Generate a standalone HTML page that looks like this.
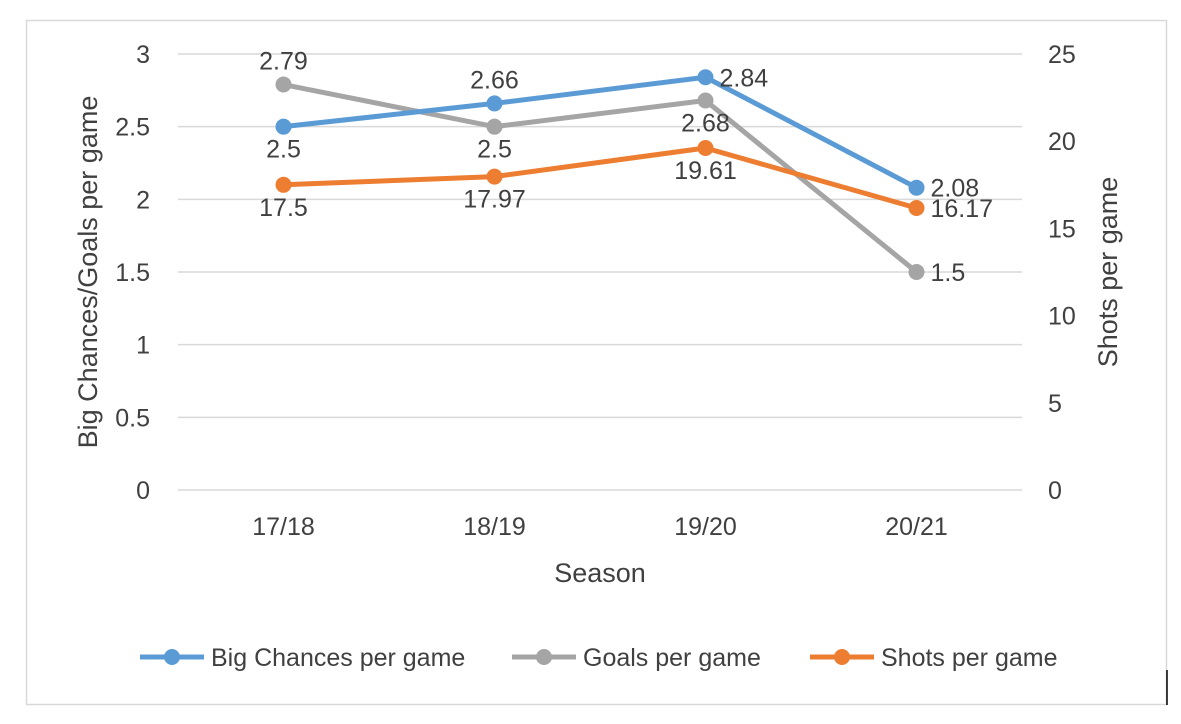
<!DOCTYPE html>
<html><head><meta charset="utf-8"><style>
body{margin:0;background:#fff;}
svg text{font-family:"Liberation Sans",sans-serif;fill:#404040;}
</style></head><body>
<svg width="1181" height="719" id="c">
<rect x="26.5" y="20.5" width="1140" height="684" fill="#fff" stroke="#d9d9d9" stroke-width="1.5"/>
<line x1="1167" y1="670" x2="1167" y2="705" stroke="#000" stroke-width="1.5"/>
<g id="grid"></g><g id="ticks"></g><g id="series"></g>
<text x="600" y="582" text-anchor="middle" font-size="27">Season</text>
<text transform="translate(97,272) rotate(-90)" text-anchor="middle" font-size="27">Big Chances/Goals per game</text>
<text transform="translate(1117,272) rotate(-90)" text-anchor="middle" font-size="27">Shots per game</text>
<g>
<g><line x1="140" y1="657" x2="204" y2="657" stroke="#5b9bd5" stroke-width="5"/><circle cx="172" cy="657" r="8" fill="#5b9bd5"/><text x="211" y="666" font-size="25">Big Chances per game</text></g>
<g><line x1="512" y1="657" x2="576" y2="657" stroke="#a5a5a5" stroke-width="5"/><circle cx="544" cy="657" r="8" fill="#a5a5a5"/><text x="583" y="666" font-size="25">Goals per game</text></g>
<g><line x1="810" y1="657" x2="874" y2="657" stroke="#ed7d31" stroke-width="5"/><circle cx="842" cy="657" r="8" fill="#ed7d31"/><text x="881" y="666" font-size="25">Shots per game</text></g>
</g>
</svg>
<script>
const categories=["17/18","18/19","19/20","20/21"];
const bigChances=[2.5,2.66,2.84,2.08];
const goals=[2.79,2.5,2.68,1.5];
const shots=[17.5,17.97,19.61,16.17];
const leftTicks=[0,0.5,1,1.5,2,2.5,3];
const rightTicks=[0,5,10,15,20,25];
const NS="http://www.w3.org/2000/svg";
const X0=178,X1=1022,Y0=490,Y1=54;
const xPos=i=>X0+(X1-X0)*(i+0.5)/categories.length;
const yL=v=>Y0-(Y0-Y1)*v/3;
const yR=v=>Y0-(Y0-Y1)*v/25;
function mk(tag,attrs,parent){const e=document.createElementNS(NS,tag);for(const k in attrs)e.setAttribute(k,attrs[k]);parent.appendChild(e);return e;}
const grid=document.getElementById('grid'),ticks=document.getElementById('ticks'),ser=document.getElementById('series');
leftTicks.forEach(t=>{
 const l=mk('line',{x1:X0,x2:X1,y1:yL(t),y2:yL(t),stroke:'#d9d9d9','stroke-width':1.5},grid);
 
 
 const tx=mk('text',{x:150,y:yL(t)+9,'text-anchor':'end','font-size':25},ticks);tx.textContent=t;
 
 
});
rightTicks.forEach(t=>{
 const tx=mk('text',{x:1048,y:yR(t)+9,'font-size':25},ticks);tx.textContent=t;
 
 
});
categories.forEach((c,i)=>{
 const tx=mk('text',{x:xPos(i),y:535,'text-anchor':'middle','font-size':25},ticks);tx.textContent=c;
 
 
});
function draw(vals,yf,color,name,pos){
 const g=mk('g',{},ser);
 
 
 const pl=mk('polyline',{points:vals.map((v,i)=>xPos(i)+','+yf(v)).join(' '),fill:'none',stroke:color,'stroke-width':5,'stroke-linejoin':'round'},g);
 
 
 vals.forEach((v,i)=>{
  const c=mk('circle',{cx:xPos(i),cy:yf(v),r:8,fill:color},g);
  
  
  const p=pos[i];let x=xPos(i),y=yf(v),a='middle';
  if(p==='a')y-=15;else if(p==='b')y+=31;else{x+=14;y+=9;a='start';}
  const t=mk('text',{x:x,y:y,'text-anchor':a,'font-size':25},g);t.textContent=v;
  
  
 });
}
draw(goals,yL,'#a5a5a5','goals-series',['a','b','b','r']);
draw(bigChances,yL,'#5b9bd5','big-chances-series',['b','a','r','r']);
draw(shots,yR,'#ed7d31','shots-series',['b','b','b','r']);
</script>
</body></html>
